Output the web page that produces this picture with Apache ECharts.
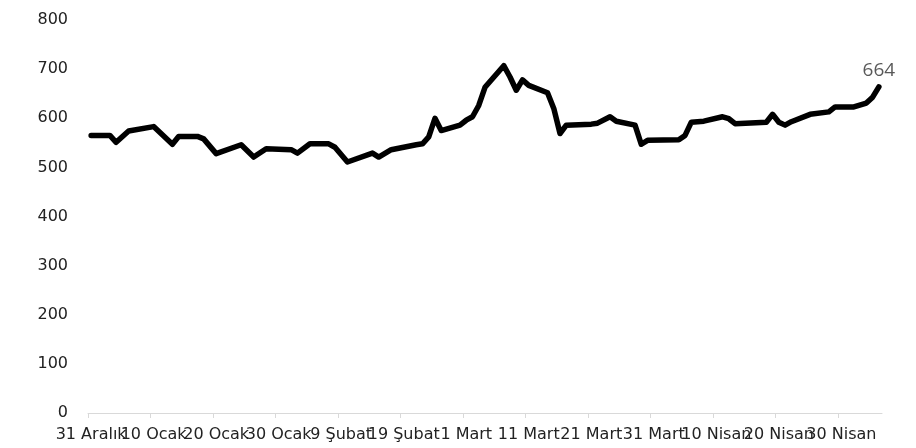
<!DOCTYPE html>
<html>
<head>
<meta charset="utf-8">
<script src="https://cdn.jsdelivr.net/npm/echarts@6.0.0/dist/echarts.min.js"></script>
<style>
  html, body { margin: 0; padding: 0; background: #fff; }
  #chart { width: 916px; height: 448px; }
</style>
</head>
<body>
<div id="chart"></div>
<script>
// gözlem tarihleri (işlem günleri, kırılma noktaları)
var dates = [
  '2021-12-31', '2022-01-03', '2022-01-04', '2022-01-06', '2022-01-10', '2022-01-13',
  '2022-01-14', '2022-01-17', '2022-01-18', '2022-01-20', '2022-01-24', '2022-01-26',
  '2022-01-28', '2022-02-01', '2022-02-02', '2022-02-04', '2022-02-07', '2022-02-08',
  '2022-02-10', '2022-02-14', '2022-02-15', '2022-02-17', '2022-02-21', '2022-02-22',
  '2022-02-23', '2022-02-24', '2022-02-25', '2022-02-28', '2022-03-01', '2022-03-02',
  '2022-03-03', '2022-03-04', '2022-03-07', '2022-03-08', '2022-03-09', '2022-03-10',
  '2022-03-11', '2022-03-14', '2022-03-15', '2022-03-16', '2022-03-17', '2022-03-21',
  '2022-03-22', '2022-03-24', '2022-03-25', '2022-03-28', '2022-03-29', '2022-03-30',
  '2022-04-04', '2022-04-05', '2022-04-06', '2022-04-08', '2022-04-11', '2022-04-12',
  '2022-04-13', '2022-04-18', '2022-04-19', '2022-04-20', '2022-04-21', '2022-04-22',
  '2022-04-25', '2022-04-28', '2022-04-29', '2022-05-02', '2022-05-04', '2022-05-05',
  '2022-05-06'
];

var values = [
  565, 565, 551, 574, 583, 547,
  563, 563, 558, 528, 546, 521,
  538, 536, 529, 548, 548, 541,
  511, 529, 521, 536, 546, 548,
  562, 600, 575, 586, 596, 603,
  626, 663, 707, 684, 657, 678,
  667, 652, 620, 569, 586, 588,
  590, 603, 594, 586, 547, 555,
  556, 565, 592, 594, 603, 599,
  589, 592, 608, 592, 586, 593,
  608, 613, 623, 623, 631, 643,
  664
];

// x ekseni etiketleri (31 Aralık'tan itibaren gün sayısı)
var labelDays = [0, 10, 20, 30, 40, 50, 60, 70, 80, 90, 100, 110, 120];
var tickLabels = ['31 Aralık', '10 Ocak', '20 Ocak', '30 Ocak', '9 Şubat', '19 Şubat', '1 Mart',
  '11 Mart', '21 Mart', '31 Mart', '10 Nisan', '20 Nisan', '30 Nisan'];

var yTicks = [0, 100, 200, 300, 400, 500, 600, 700, 800];

var startDay = Date.UTC(2021, 11, 31);
var xMin = -0.5, xMax = 126.5;

function dayIndex(s) {
  var p = s.split('-');
  return Math.round((Date.UTC(+p[0], +p[1] - 1, +p[2]) - startDay) / 86400000);
}

var seriesData = dates.map(function (d, i) {
  return [dayIndex(d), values[i]];
});
// sadece son değerin etiketi var
var last = seriesData.length - 1;
seriesData[last] = {
  value: seriesData[last],
  label: {
    show: true,
    position: 'top',
    distance: 7,
    color: '#595959',
    fontSize: 19,
    fontFamily: 'Open Sans',
    formatter: function (p) { return p.value[1]; }
  }
};

// gün aralığı sınırları (Excel tarih ekseni gibi, çizgiler günün ortasında)
var tickBounds = labelDays.map(function (d) { return d - 0.5; });
// uçlara boş etiket: echarts min/max etiket gizlemesi gerçek etiketlere dokunmasın
var labelPos = [xMin].concat(labelDays, [xMax]);

var myChart = echarts.init(document.getElementById('chart'));
myChart.setOption({
  animation: false,
  backgroundColor: '#fff',
  grid: { left: 88, right: 34, top: 20, bottom: 35, containLabel: false },
  xAxis: {
    type: 'value',
    min: xMin,
    max: xMax,
    splitLine: { show: false },
    axisLine: { show: true, lineStyle: { color: '#d9d9d9', width: 1 } },
    axisTick: { show: true, customValues: tickBounds, length: 5, lineStyle: { color: '#d9d9d9' } },
    axisLabel: {
      customValues: labelPos,
      hideOverlap: false,
      margin: 14,
      fontSize: 16,
      fontFamily: 'DejaVu Sans',
      color: '#222',
      formatter: function (v) {
        var i = labelDays.indexOf(v);
        return i < 0 ? '' : tickLabels[i];
      }
    }
  },
  yAxis: {
    type: 'value',
    min: yTicks[0],
    max: yTicks[yTicks.length - 1],
    interval: 100,
    axisLine: { show: false },
    axisTick: { show: false },
    splitLine: { show: false },
    axisLabel: { margin: 20, fontSize: 16, fontFamily: 'DejaVu Sans', color: '#222' }
  },
  series: [{
    type: 'line',
    data: seriesData,
    showSymbol: true,
    showAllSymbol: true,
    symbol: 'circle',
    symbolSize: 0,
    lineStyle: { color: '#000', width: 5.5, cap: 'round', join: 'round' }
  }]
});
</script>
</body>
</html>
